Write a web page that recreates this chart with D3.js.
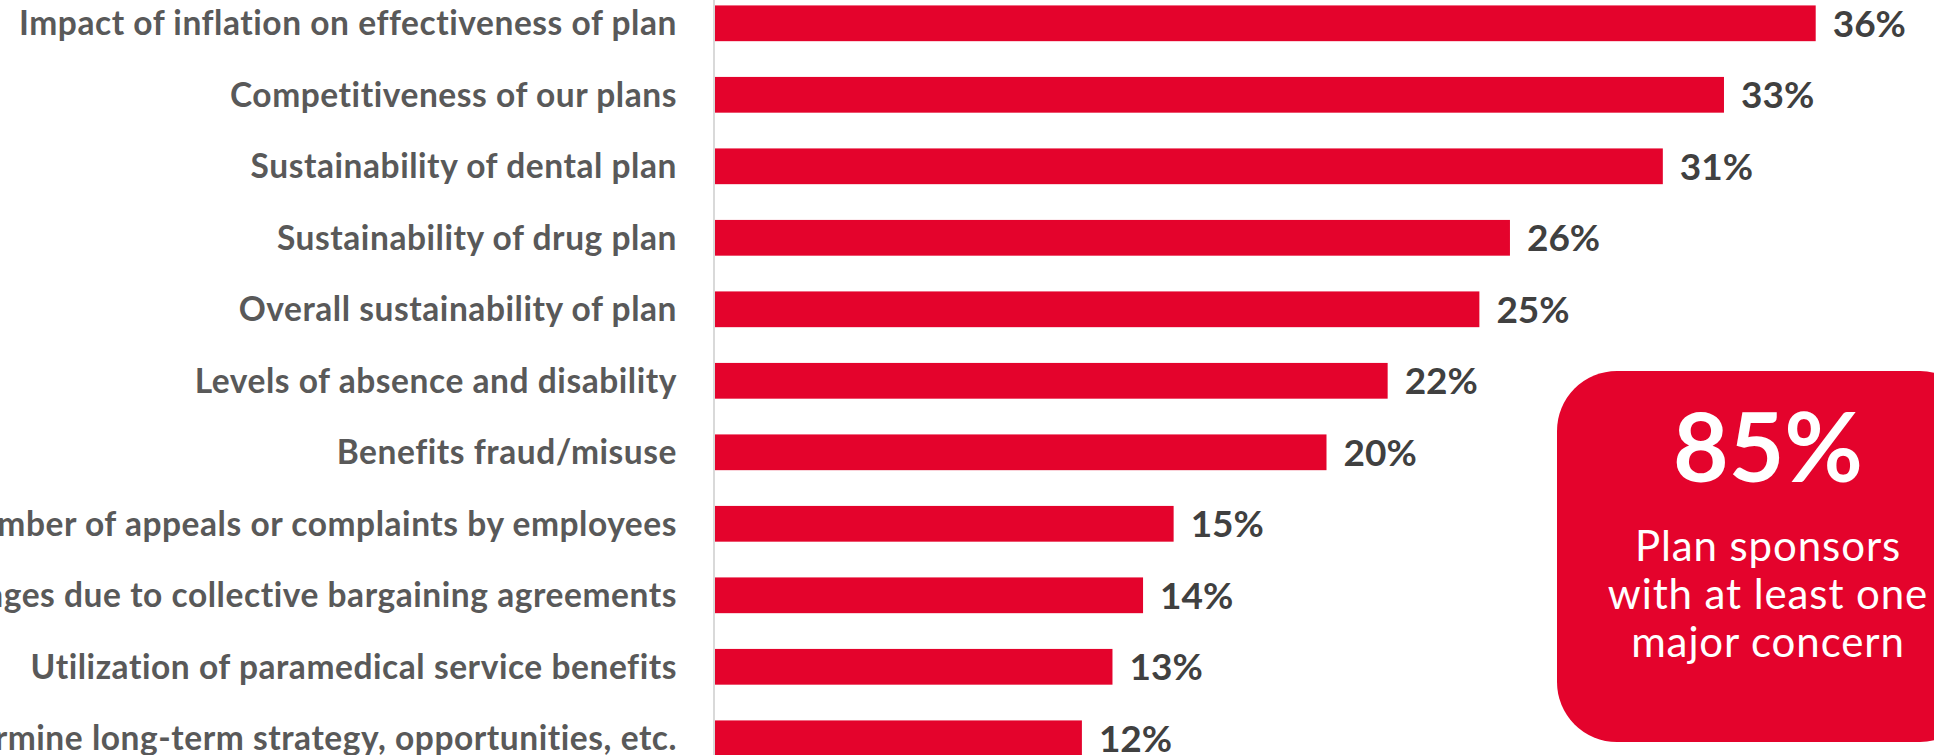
<!DOCTYPE html>
<html>
<head>
<meta charset="utf-8">
<script src="https://cdn.jsdelivr.net/npm/d3@7"></script>
<style>
  html, body { margin: 0; padding: 0; background: #ffffff; overflow: hidden; }
  svg { display: block; }
  text { font-variant-ligatures: none; font-feature-settings: "liga" 0, "dlig" 0; }
</style>
</head>
<body>
<svg id="chart" width="1934" height="755"></svg>
<script>
// Major concerns reported by plan sponsors (% of respondents)
const categories = [
  "Impact of inflation on effectiveness of plan",
  "Competitiveness of our plans",
  "Sustainability of dental plan",
  "Sustainability of drug plan",
  "Overall sustainability of plan",
  "Levels of absence and disability",
  "Benefits fraud/misuse",
  "Number of appeals or complaints by employees",
  "Changes due to collective bargaining agreements",
  "Utilization of paramedical service benefits",
  "Ability to determine long-term strategy, opportunities, etc."
];
const values = [36, 33, 31, 26, 25, 22, 20, 15, 14, 13, 12];

const calloutValue = "85%";
const calloutLines = ["Plan sponsors", "with at least one", "major concern"];

const RED = "#e4032c";
const LABEL_GREY = "#595959";
const VALUE_GREY = "#404040";
const FONT = "Lato, 'Open Sans', sans-serif";

const svg = d3.select("#chart");

const x = d3.scaleLinear().domain([0, 36]).range([715, 1815.7]);
const y = d3.scaleBand()
  .domain(categories)
  .range([-12.45, 774.05])
  .paddingInner(0.5)
  .paddingOuter(0.25);

// vertical baseline axis
svg.append("line")
  .attr("x1", 714).attr("x2", 714)
  .attr("y1", 0).attr("y2", 755)
  .attr("stroke", "#d9d9d9")
  .attr("stroke-width", 2);

// bars
svg.selectAll("rect.bar")
  .data(values)
  .join("rect")
  .attr("class", "bar")
  .attr("x", x(0))
  .attr("y", (d, i) => y(categories[i]))
  .attr("width", d => x(d) - x(0))
  .attr("height", y.bandwidth())
  .attr("fill", RED);

// category labels
svg.selectAll("text.cat")
  .data(categories)
  .join("text")
  .attr("class", "cat")
  .attr("x", 677)
  .attr("y", d => y(d) + y.bandwidth() / 2)
  .attr("dy", "0.36em")
  .attr("text-anchor", "end")
  .attr("font-family", FONT)
  .attr("font-weight", 700)
  .attr("font-size", 33.5)
  .attr("letter-spacing", 0.55)
  .attr("fill", LABEL_GREY)
  .text(d => d);

// value labels
svg.selectAll("text.val")
  .data(values)
  .join("text")
  .attr("class", "val")
  .attr("x", d => x(d) + 17)
  .attr("y", (d, i) => y(categories[i]) + y.bandwidth() / 2)
  .attr("dy", "0.36em")
  .attr("font-family", FONT)
  .attr("font-weight", 700)
  .attr("font-size", 37)
  .attr("fill", VALUE_GREY)
  .text(d => d + "%");

// callout box
const box = svg.append("g");
box.append("rect")
  .attr("x", 1557).attr("y", 371)
  .attr("width", 423).attr("height", 371)
  .attr("rx", 60).attr("ry", 60)
  .attr("fill", RED);

const cx = 1768;
box.append("text")
  .attr("x", cx).attr("y", 482)
  .attr("text-anchor", "middle")
  .attr("font-family", FONT)
  .attr("font-weight", 700)
  .attr("font-size", 96)
  .attr("fill", "#ffffff")
  .text(calloutValue);

box.selectAll("text.line")
  .data(calloutLines)
  .join("text")
  .attr("class", "line")
  .attr("x", cx)
  .attr("y", (d, i) => 561 + i * 48)
  .attr("text-anchor", "middle")
  .attr("font-family", FONT)
  .attr("font-weight", 400)
  .attr("font-size", 42)
  .attr("letter-spacing", 0.9)
  .attr("fill", "#ffffff")
  .text(d => d);
</script>
</body>
</html>
